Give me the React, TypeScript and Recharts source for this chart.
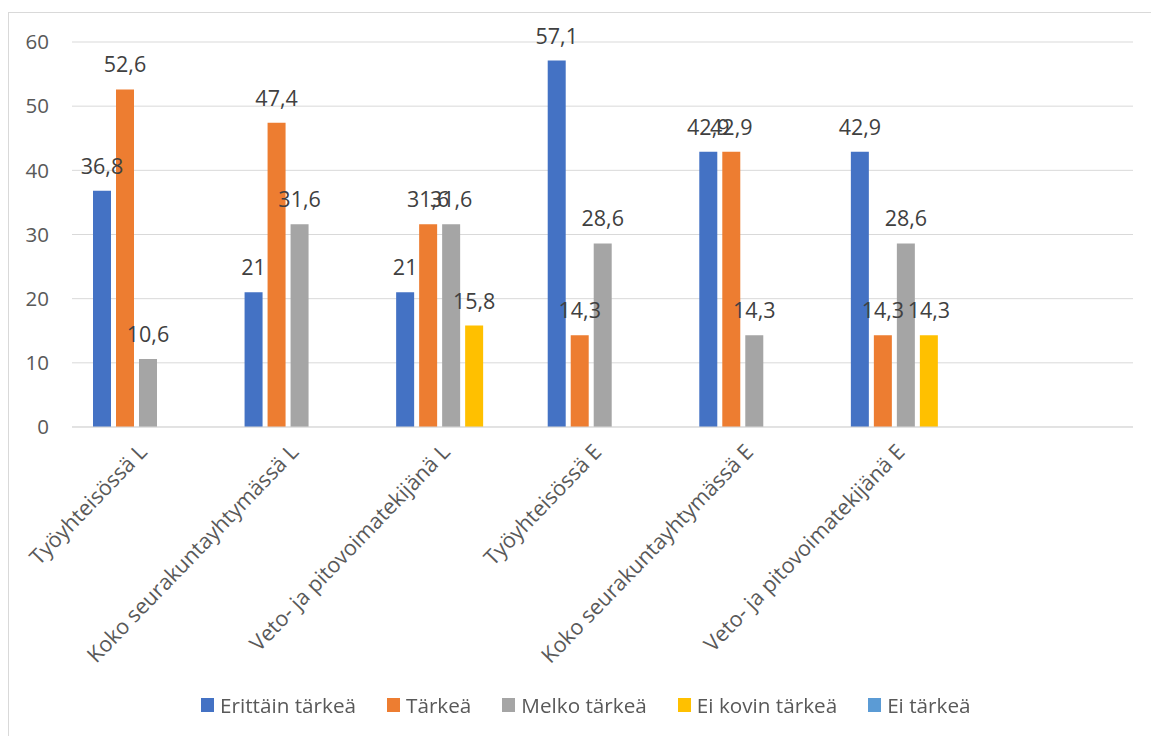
import React from 'react';
import { BarChart, Bar, XAxis, YAxis, CartesianGrid, Legend, LabelList } from 'recharts';

const categories = [
  'Työyhteisössä L',
  'Koko seurakuntayhtymässä L',
  'Veto- ja pitovoimatekijänä L',
  'Työyhteisössä E',
  'Koko seurakuntayhtymässä E',
  'Veto- ja pitovoimatekijänä E',
  '',
];
const erittainTarkea: (number | null)[] = [36.8, 21, 21, 57.1, 42.9, 42.9, null];
const tarkea: (number | null)[] = [52.6, 47.4, 31.6, 14.3, 42.9, 14.3, null];
const melkoTarkea: (number | null)[] = [10.6, 31.6, 31.6, 28.6, 14.3, 28.6, null];
const eiKovinTarkea: (number | null)[] = [null, null, 15.8, null, null, 14.3, null];
const eiTarkea: (number | null)[] = [null, null, null, null, null, null, null];
const yTicks = [0, 10, 20, 30, 40, 50, 60];

const seriesNames = ['Erittäin tärkeä', 'Tärkeä', 'Melko tärkeä', 'Ei kovin tärkeä', 'Ei tärkeä'];
const seriesKeys = ['s1', 's2', 's3', 's4', 's5'];
const seriesColors = ['#4472C4', '#ED7D31', '#A5A5A5', '#FFC000', '#5B9BD5'];

const data = categories.map((name, i) => ({
  name,
  s1: erittainTarkea[i],
  s2: tarkea[i],
  s3: melkoTarkea[i],
  s4: eiKovinTarkea[i],
  s5: eiTarkea[i],
}));

const FONT = '"Open Sans", "Segoe UI", sans-serif';

const fmt = (v: number) => String(v).replace('.', ',');

const ValueLabel = (props: any) => {
  const { x, y, width, value } = props;
  if (value === null || value === undefined) return null;
  return (
    <text
      x={Number(x) + Number(width) / 2}
      y={Number(y) - 17}
      textAnchor="middle"
      fill="#404040"
      fontSize={21.5}
      fontFamily={FONT}
    >
      {fmt(Number(value))}
    </text>
  );
};

const XTick = (props: any) => {
  const { x, y, payload } = props;
  if (!payload || !payload.value) return null;
  const ax = Number(x) - 5;
  const ay = Number(y) + 13;
  return (
    <text
      x={ax}
      y={ay}
      dy="0.35em"
      textAnchor="end"
      fill="#595959"
      fontSize={21.5}
      fontFamily={FONT}
      transform={`rotate(-46 ${ax} ${ay})`}
    >
      {payload.value}
    </text>
  );
};

const LegendContent = () => (
  <div
    style={{
      display: 'flex',
      alignItems: 'center',
      height: 30,
      paddingLeft: 201,
      fontFamily: FONT,
      fontSize: 20.7,
      color: '#595959',
      whiteSpace: 'nowrap',
    }}
  >
    {seriesNames.map((n, i) => (
      <div key={n} style={{ display: 'flex', alignItems: 'center', marginRight: 31 }}>
        <div style={{ width: 13, height: 14, background: seriesColors[i], marginRight: 6 }} />
        <span style={{ lineHeight: '30px' }}>{n}</span>
      </div>
    ))}
  </div>
);

export default function App() {
  return (
    <>
      <div
        style={{
          position: 'fixed',
          left: 8,
          top: 12,
          width: 1300,
          height: 900,
          border: '1px solid #d9d9d9',
          background: '#fff',
          boxSizing: 'border-box',
        }}
      />
      <div style={{ position: 'fixed', left: 0, top: 0 }}>
        <BarChart
          width={1151}
          height={736}
          data={data}
          margin={{ top: 42, right: 18, left: 12, bottom: 16 }}
          barSize={18}
          barGap={5}
        >
          <CartesianGrid vertical={false} stroke="#d9d9d9" strokeWidth={1} />
          <XAxis
            dataKey="name"
            height={263}
            interval={0}
            tickLine={false}
            axisLine={{ stroke: '#d9d9d9' }}
            tick={<XTick />}
          />
          <YAxis
            width={60}
            domain={[0, 60]}
            ticks={yTicks}
            axisLine={false}
            tickLine={false}
            tickSize={0}
            tickMargin={23}
            tick={{ fill: '#595959', fontSize: 20.5, fontFamily: FONT }}
          />
          <Legend
            verticalAlign="bottom"
            height={30}
            wrapperStyle={{ left: 0, width: 1151 }}
            content={<LegendContent />}
          />
          {seriesKeys.map((k, i) => (
            <Bar key={k} dataKey={k} name={seriesNames[i]} fill={seriesColors[i]} isAnimationActive={false}>
              <LabelList dataKey={k} content={<ValueLabel />} />
            </Bar>
          ))}
        </BarChart>
      </div>
    </>
  );
}
